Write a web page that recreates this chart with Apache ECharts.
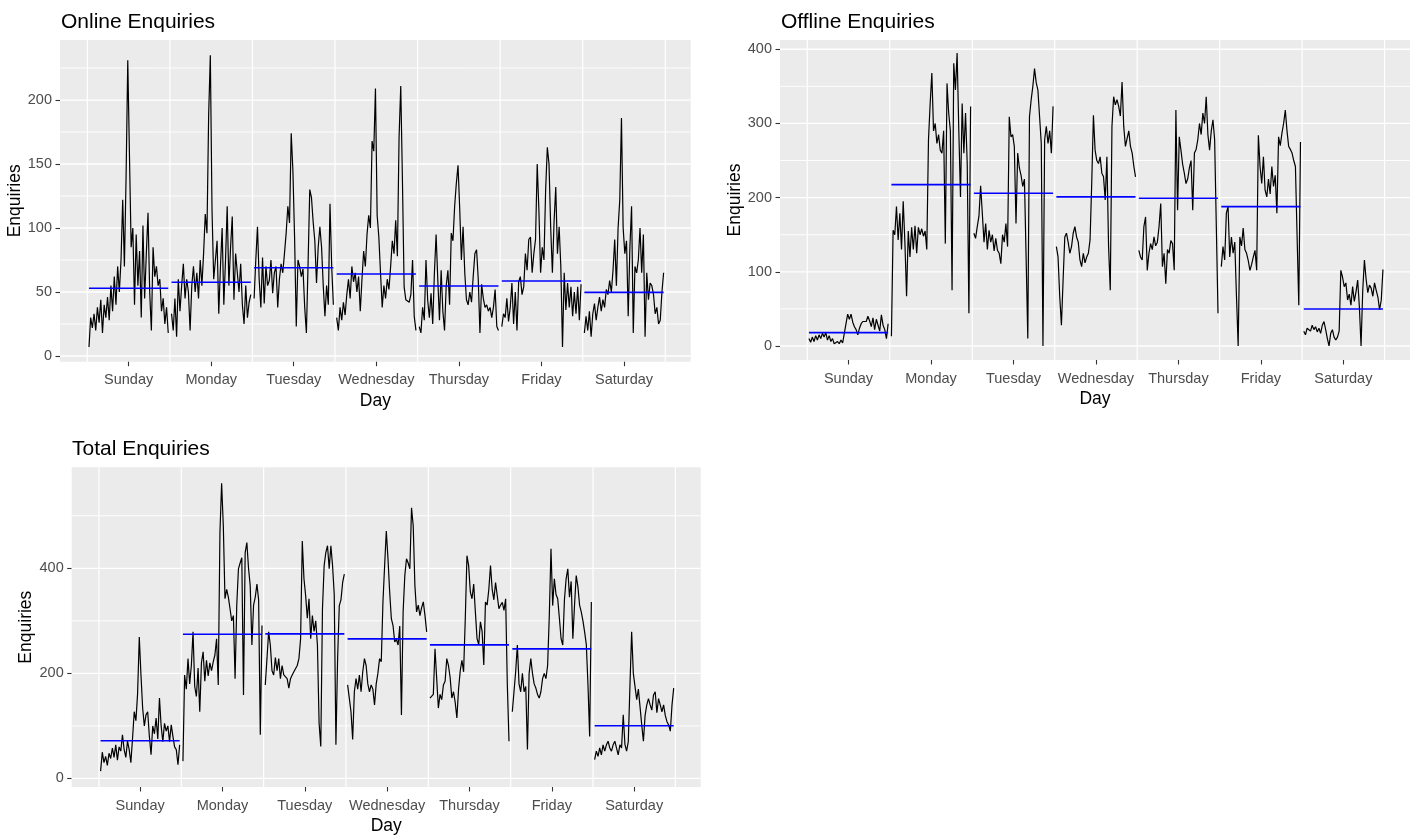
<!DOCTYPE html>
<html>
<head>
<meta charset="utf-8">
<title>Enquiries by Day</title>
<script src="https://cdn.jsdelivr.net/npm/echarts@6/dist/echarts.min.js"></script>
<style>
  html, body { margin: 0; padding: 0; background: #ffffff; }
  #chart { width: 1415px; height: 836px; }
</style>
</head>
<body>
<div id="chart"></div>
<script>
// Day names shown under each panel
const dayLabels = ['Sunday', 'Monday', 'Tuesday', 'Wednesday', 'Thursday', 'Friday', 'Saturday'];

// Enquiry readings through each day (Sunday .. Saturday), 48 readings per day
const onlineEnquiries = [
  [7,30,22,33,20,38,26,44,18,40,30,46,28,55,35,62,40,70,50,75,122,70,140,231,157,85,100,40,95,55,82,30,102,45,80,112,50,20,85,62,70,55,60,35,45,25,38,18],
  [33,20,45,15,60,35,55,72,45,60,50,20,55,70,50,65,45,75,55,80,111,96,188,235,114,60,75,90,33,70,100,40,75,117,55,85,109,44,80,65,50,72,40,25,55,30,42,48],
  [45,75,101,60,38,77,41,70,55,59,75,49,65,70,38,60,72,65,80,96,117,104,174,145,93,23,75,70,62,68,38,18,72,130,124,105,90,57,85,101,85,55,31,55,40,119,70,40],
  [30,20,38,28,42,32,48,60,45,70,58,65,50,62,35,60,82,70,95,110,100,168,160,209,110,93,65,38,55,45,60,52,70,90,80,106,78,171,211,137,54,44,45,42,48,75,31,20],
  [23,18,38,28,75,44,30,49,25,65,95,60,28,67,35,20,55,67,40,96,90,117,135,149,115,75,101,65,44,40,50,42,62,80,83,60,18,56,45,38,40,35,38,30,38,52,23,20],
  [23,33,30,45,27,38,57,25,50,20,58,62,48,54,80,67,91,93,65,80,91,150,114,65,85,75,130,163,150,100,65,105,132,80,101,70,7,65,36,57,38,54,31,50,33,54,28,56],
  [18,31,20,35,15,33,41,28,38,46,35,44,38,52,48,59,50,67,91,55,100,122,186,100,80,90,31,85,117,18,70,65,75,100,65,95,15,65,44,57,55,48,33,38,25,28,50,65]
];

const offlineEnquiries = [
  [10,5,12,6,14,8,15,10,17,12,18,8,14,6,10,3,1,6,3,8,4,5,30,43,36,43,32,26,22,15,24,30,33,35,33,40,34,26,38,22,36,38,20,42,28,22,10,30],
  [13,156,150,188,143,179,130,195,140,67,155,120,160,130,162,125,160,150,158,148,155,130,278,327,368,290,300,273,285,264,260,290,138,354,314,290,75,381,345,395,291,201,327,260,314,246,44,323],
  [152,145,161,175,216,179,140,165,130,156,140,150,128,145,129,125,111,150,140,165,134,309,282,285,269,165,260,240,230,215,225,120,10,309,332,350,374,355,345,309,273,0,278,296,273,290,260,323],
  [134,120,67,28,89,147,152,140,125,134,152,161,147,140,116,107,125,112,120,125,143,220,311,264,250,246,255,233,228,197,255,134,75,296,336,325,332,323,310,356,296,269,280,290,269,260,242,228],
  [129,120,116,161,174,102,125,138,130,147,135,140,161,192,107,125,84,130,125,142,138,102,318,183,282,264,245,233,219,225,240,250,183,260,265,278,300,285,314,300,336,285,264,290,305,278,161,44],
  [107,134,116,179,188,120,147,125,140,67,0,147,135,159,130,125,115,102,110,120,129,102,284,242,219,255,210,201,225,205,242,215,230,179,282,270,287,300,318,290,269,265,260,250,242,147,55,275],
  [20,15,24,26,20,28,22,26,19,24,17,28,33,22,10,0,17,22,12,8,12,20,102,93,80,85,62,70,55,80,60,73,89,53,0,75,116,90,72,82,78,67,85,75,66,49,62,103]
];

const totalEnquiries = [
  [14,50,30,42,25,48,38,58,40,64,35,60,52,83,55,40,71,55,30,77,127,110,162,269,197,134,100,121,127,80,45,100,85,115,75,153,100,70,105,90,100,70,102,80,60,55,26,64],
  [33,197,170,228,180,215,279,175,156,210,127,220,241,185,225,195,220,205,222,235,266,178,468,562,481,342,360,345,323,300,310,190,330,399,410,420,159,430,449,400,367,254,330,345,370,340,83,291],
  [178,228,279,254,205,197,230,205,228,190,215,197,200,190,172,190,197,203,200,215,228,266,452,380,348,305,342,266,310,280,300,254,105,61,323,405,430,443,399,443,405,350,64,228,329,340,373,389],
  [178,153,127,74,165,190,170,197,165,203,228,215,180,165,178,170,140,180,200,228,222,336,405,471,418,355,304,291,260,265,254,290,121,317,386,418,410,399,515,481,367,317,330,310,325,336,310,279],
  [153,156,160,247,190,134,160,150,178,185,228,215,192,153,165,145,115,170,205,225,203,304,424,405,355,342,370,317,266,255,298,280,216,336,330,360,405,360,340,373,376,323,330,335,320,342,178,71],
  [127,165,203,254,180,165,200,165,175,55,200,228,200,180,172,160,153,165,190,200,190,215,310,437,329,380,350,342,305,266,254,340,380,399,345,375,266,330,386,365,330,317,300,279,255,178,80,336],
  [36,52,42,58,45,64,52,64,71,58,52,64,71,74,45,64,58,121,65,52,70,178,279,200,203,150,170,172,102,71,120,140,152,140,130,159,165,125,152,140,127,140,120,108,102,90,140,172]
];

// Daily means (blue bars across each day)
const onlineMeans  = [52.9, 57.6, 69.0, 64.1, 54.7, 58.6, 49.7];
const offlineMeans = [18.0, 217.5, 205.8, 201.0, 199.1, 187.9, 49.9];
const totalMeans   = [71.9, 274.4, 275.1, 265.6, 254.3, 246.7, 100.3];

// Value-axis breaks (labelled) and the in-between minor breaks
const onlineTicks  = [0, 50, 100, 150, 200];
const onlineMinor  = [25, 75, 125, 175, 225];
const offlineTicks = [0, 100, 200, 300, 400];
const offlineMinor = [50, 150, 250, 350];
const totalTicks   = [0, 200, 400];
const totalMinor   = [100, 300, 500];

// ---- layout & styling ----
const FONT = '"Liberation Sans", Arial, Helvetica, sans-serif';
const X_MIN = -0.331, X_MAX = 7.308;       // day axis with padding either side
const DAY_START = 0.02, DAY_SPAN = 0.96;    // part of each day covered by readings

const panels = [
  { title: 'Online Enquiries',  values: onlineEnquiries,  means: onlineMeans,  ticks: onlineTicks,  minor: onlineMinor,
    yMin: -4.45, yMax: 246.9, grid: { left: 60, top: 40, width: 630.7, height: 321.7 }, titleAt: { left: 61, top: 12 } },
  { title: 'Offline Enquiries', values: offlineEnquiries, means: offlineMeans, ticks: offlineTicks, minor: offlineMinor,
    yMin: -18.9, yMax: 412.5, grid: { left: 780, top: 40, width: 630, height: 320 }, titleAt: { left: 781, top: 12 } },
  { title: 'Total Enquiries',   values: totalEnquiries,   means: totalMeans,   ticks: totalTicks,   minor: totalMinor,
    yMin: -16.25, yMax: 592.2, grid: { left: 71.7, top: 467.3, width: 629, height: 322 }, titleAt: { left: 72, top: 439 } }
];

const dayCentres = dayLabels.map((_, d) => d + 0.5);
const dayEdges = [0, 1, 2, 3, 4, 5, 6, 7];

const grids = [], xAxes = [], yAxes = [], titles = [], series = [];

function segment(k, pts, color, width, z) {
  series.push({
    type: 'line', xAxisIndex: k, yAxisIndex: k, data: pts,
    symbol: 'none', silent: true, z: z, animation: false,
    lineStyle: { color: color, width: width, cap: 'butt' }
  });
}

panels.forEach((p, k) => {
  grids.push(Object.assign({ show: true, backgroundColor: '#EBEBEB', borderWidth: 0 }, p.grid));

  titles.push({
    text: p.title, left: p.titleAt.left, top: p.titleAt.top, padding: 0,
    textStyle: { fontFamily: FONT, fontSize: 21, fontWeight: 'normal', color: '#000000' }
  });

  // axes sit on the panel edges, not on the zero lines
  xAxes.push({
    type: 'value', gridIndex: k, min: X_MIN, max: X_MAX, position: 'bottom',
    axisLine: { show: false, onZero: false }, splitLine: { show: false },
    axisTick: { show: true, customValues: dayCentres, length: 4.5, lineStyle: { color: '#333333', width: 1.1 } },
    axisLabel: {
      customValues: dayCentres, margin: 11, color: '#4D4D4D', fontSize: 14.5, fontFamily: FONT,
      formatter: v => dayLabels[Math.round(v - 0.5)]
    },
    name: 'Day', nameLocation: 'middle', nameGap: 30,
    nameTextStyle: { fontFamily: FONT, fontSize: 17.5, color: '#000000' }
  });

  yAxes.push({
    type: 'value', gridIndex: k, min: p.yMin, max: p.yMax, position: 'left',
    axisLine: { show: false, onZero: false }, splitLine: { show: false },
    axisTick: { show: true, customValues: p.ticks, length: 4.5, lineStyle: { color: '#333333', width: 1.1 } },
    axisLabel: { customValues: p.ticks, margin: 8, color: '#4D4D4D', fontSize: 14.5, fontFamily: FONT },
    name: 'Enquiries', nameLocation: 'middle', nameGap: 33, nameRotate: 90,
    nameTextStyle: { fontFamily: FONT, fontSize: 17.5, color: '#000000' }
  });

  // white panel grid
  p.minor.forEach(v => segment(k, [[X_MIN, v], [X_MAX, v]], '#FFFFFF', 0.9, 1));
  p.ticks.forEach(v => segment(k, [[X_MIN, v], [X_MAX, v]], '#FFFFFF', 1.3, 1));
  dayEdges.forEach(e => segment(k, [[e, p.yMin], [e, p.yMax]], '#FFFFFF', 1.2, 1));

  // readings, one line per day
  p.values.forEach((vals, d) => {
    const n = vals.length;
    const pts = vals.map((v, i) => [d + DAY_START + i * DAY_SPAN / (n - 1), v]);
    segment(k, pts, '#000000', 1.2, 3);
  });

  // daily mean
  p.means.forEach((m, d) => {
    segment(k, [[d + DAY_START, m], [d + DAY_START + DAY_SPAN, m]], '#0000FF', 1.6, 4);
  });
});

const chart = echarts.init(document.getElementById('chart'), null, { renderer: 'canvas' });
chart.setOption({
  animation: false,
  backgroundColor: '#FFFFFF',
  title: titles,
  grid: grids,
  xAxis: xAxes,
  yAxis: yAxes,
  series: series
});
</script>
</body>
</html>
